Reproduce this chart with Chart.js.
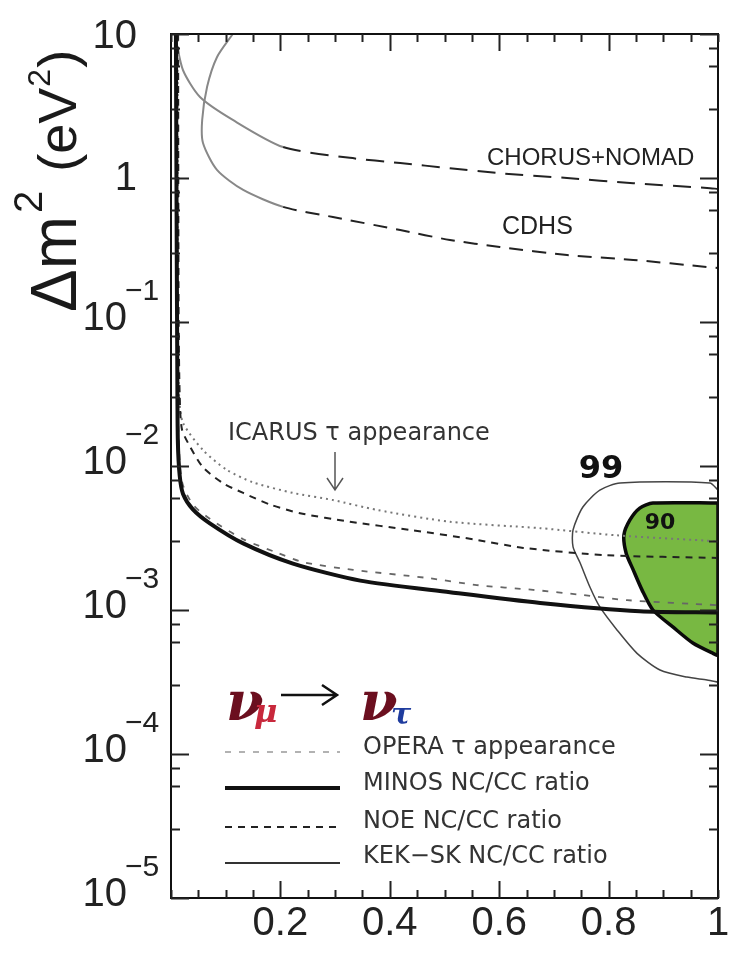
<!DOCTYPE html>
<html><head><meta charset="utf-8">
<script src="https://cdn.jsdelivr.net/npm/chart.js@4.4.1/dist/chart.umd.min.js"></script>
<style>html,body{margin:0;padding:0;background:#fff;}#c{display:block;}</style>
</head><body>
<canvas id="c" width="732" height="954"></canvas>
<script>
// ---- axis ticks / labels ----
const xTickValues = [0,0.05,0.1,0.15,0.2,0.25,0.3,0.35,0.4,0.45,0.5,0.55,0.6,0.65,0.7,0.75,0.8,0.85,0.9,0.95,1];
const xMajorTicks = [0.2,0.4,0.6,0.8];
const xTickLabels = ['0.2','0.4','0.6','0.8','1'];
const xTickLabelValues = [0.2,0.4,0.6,0.8,1];
const yDecades = [1e-5,1e-4,1e-3,1e-2,1e-1,1,10];
const yMinorMultipliers = [2,3,4,5,6,7,8,9];
const yLabelValues = [10,1,0.1,0.01,0.001,0.0001,0.00001];
const yLabelBase = ['10','1','10','10','10','10','10'];
const yLabelExp  = ['','','\u22121','\u22122','\u22123','\u22124','\u22125'];

// ---- curves: x = sin^2 2theta, y = delta m^2 (eV^2) ----
const sin2Chorus = [0.009,0.022,0.053,0.113,0.205,0.327,0.419,0.51,0.601,0.724,0.845,0.98,1.0];
const dm2Chorus  = [9.1,5.6,3.65,2.53,1.64,1.38,1.27,1.17,1.08,1.0,0.92,0.853,0.84];

const sin2Cdhs = [0.113,0.084,0.066,0.057,0.0585,0.084,0.132,0.205,0.296,0.419,0.51,0.601,0.724,0.845,0.98,1.0];
const dm2Cdhs  = [10,6.9,4.3,2.53,1.75,1.14,0.826,0.63,0.536,0.435,0.371,0.332,0.292,0.27,0.241,0.237];

const sin2Minos = [0.009,0.0095,0.0105,0.0115,0.0125,0.016,0.022,0.040,0.071,0.132,0.223,0.346,0.510,0.675,0.857,1.0];
const dm2Minos  = [10,3,0.3,0.05,0.015,0.0085,0.0064,0.0050,0.0040,0.0029,0.0021,0.0016,0.00133,0.00112,0.00098,0.00096];

const sin2Icarus = [0.012,0.0125,0.015,0.022,0.0585,0.102,0.150,0.223,0.296,0.377,0.510,0.675,0.815,1.0];
const dm2Icarus  = [10,0.1,0.03,0.0199,0.0129,0.0094,0.0077,0.0065,0.0058,0.00495,0.0041,0.0037,0.0033,0.0030];

const sin2Noe = [0.013,0.014,0.016,0.020,0.035,0.0585,0.095,0.132,0.181,0.236,0.327,0.437,0.552,0.644,0.797,1.0];
const dm2Noe  = [10,0.1,0.03,0.018,0.0136,0.0098,0.0076,0.0065,0.0054,0.0047,0.0041,0.0036,0.0031,0.0027,0.0024,0.0023];

const sin2Opera = [0.011,0.0115,0.013,0.020,0.040,0.071,0.132,0.194,0.241,0.333,0.468,0.559,0.662,0.753,0.834,1.0];
const dm2Opera  = [10,0.1,0.02,0.0078,0.0054,0.0043,0.0031,0.0025,0.00215,0.0019,0.00167,0.00149,0.00138,0.00127,0.00117,0.00108];

const sin2Sk90 = [1.0,0.881,0.857,0.839,0.828,0.832,0.845,0.861,0.881,0.918,0.954,0.991,1.0,1.0];
const dm2Sk90  = [0.00553,0.00553,0.0051,0.00422,0.00332,0.00249,0.0019,0.00138,0.0010,0.00076,0.00059,0.0005,0.000487,0.00553];

const sin2Sk99 = [1.0,0.985,0.821,0.784,0.753,0.735,0.735,0.748,0.766,0.784,0.815,0.852,0.894,0.943,0.980,1.0];
const dm2Sk99  = [0.0068,0.00762,0.00762,0.0068,0.00519,0.0036,0.00274,0.00212,0.00144,0.00105,0.00073,0.0005,0.000383,0.000342,0.000327,0.000316];

function pts(xs, ys){ return xs.map((x,i)=>({x:x, y:ys[i]})); }
const DASH_FROM = 0.2;

const datasets = [
  {label:'MINOS NC/CC ratio', data:pts(sin2Minos,dm2Minos), borderColor:'#111', borderWidth:4},
  {label:'NOE NC/CC ratio', data:pts(sin2Noe,dm2Noe), borderColor:'#222', borderWidth:2, borderDash:[7,6]},
  {label:'OPERA \u03c4 appearance', data:pts(sin2Opera,dm2Opera), borderColor:'#666', borderWidth:1.8, borderDash:[6,8]},
  {label:'ICARUS \u03c4 appearance', data:pts(sin2Icarus,dm2Icarus), borderColor:'#777', borderWidth:2, borderDash:[2,4]},
  {label:'CHORUS+NOMAD', data:pts(sin2Chorus,dm2Chorus), borderColor:'#888', borderWidth:2,
    segment:{borderDash:c=>c.p0.parsed.x>=DASH_FROM?[18,10]:undefined, borderColor:c=>c.p0.parsed.x>=DASH_FROM?'#222':'#888'}},
  {label:'CDHS', data:pts(sin2Cdhs,dm2Cdhs), borderColor:'#888', borderWidth:2,
    segment:{borderDash:c=>c.p0.parsed.x>=DASH_FROM?[14,9]:undefined, borderColor:c=>c.p0.parsed.x>=DASH_FROM?'#222':'#888'}},
  {label:'SK 99%', data:pts(sin2Sk99,dm2Sk99), borderColor:'#444', borderWidth:1.5},
  {label:'SK 90%', data:pts(sin2Sk90,dm2Sk90), borderColor:'#0a0a0a', borderWidth:3.5, backgroundColor:'#78b842', fill:'shape'}
];
datasets.forEach(d=>{ d.showLine=true; d.pointRadius=0; d.tension=0.25; if(d.fill===undefined) d.fill=false; });

const overlay = {
  id:'overlay',
  afterDatasetsDraw(chart){
    const ctx = chart.ctx, a = chart.chartArea, xs = chart.scales.x, ys = chart.scales.y;
    ctx.save();
    // frame
    ctx.strokeStyle='#111'; ctx.lineWidth=2;
    ctx.strokeRect(a.left, a.top, a.right-a.left, a.bottom-a.top);
    // y ticks
    ctx.lineWidth=2; ctx.strokeStyle='#222';
    ys.ticks.forEach(t=>{
      const p = Math.round(ys.getPixelForValue(t.value))+0.5;
      const len = t.major ? 18 : 9;
      ctx.beginPath(); ctx.moveTo(a.left,p); ctx.lineTo(a.left+len,p);
      ctx.moveTo(a.right,p); ctx.lineTo(a.right-len,p); ctx.stroke();
    });
    xs.ticks.forEach(t=>{
      const p = Math.round(xs.getPixelForValue(t.value))+0.5;
      const len = t.major ? 17 : 8;
      ctx.beginPath(); ctx.moveTo(p,a.bottom); ctx.lineTo(p,a.bottom-len);
      ctx.moveTo(p,a.top); ctx.lineTo(p,a.top+len); ctx.stroke();
    });
    // x labels
    ctx.fillStyle='#222'; ctx.font='40px "Liberation Sans", Arial, sans-serif';
    ctx.textAlign='center'; ctx.textBaseline='middle';
    xTickLabels.forEach((l,i)=>{ ctx.fillText(l, xs.getPixelForValue(xTickLabelValues[i]), a.bottom+26); });
    // y labels
    yLabelValues.forEach((v,i)=>{
      const p = ys.getPixelForValue(v);
      if(yLabelExp[i]===''){
        ctx.font='40px "Liberation Sans", Arial, sans-serif'; ctx.textAlign='right'; ctx.textBaseline='middle';
        ctx.fillText(yLabelBase[i], 137, Math.max(p+1, 37));
      } else {
        ctx.font='40px "Liberation Sans", Arial, sans-serif'; ctx.textAlign='right'; ctx.textBaseline='middle';
        ctx.fillText(yLabelBase[i], 127, p-3);
        ctx.font='30px "Liberation Sans", Arial, sans-serif'; ctx.textAlign='left';
        ctx.fillText(yLabelExp[i], 125, p-30);
      }
    });
    // y title
    ctx.save();
    ctx.translate(76, 312); ctx.rotate(-Math.PI/2);
    ctx.textAlign='left'; ctx.textBaseline='alphabetic'; ctx.fillStyle='#1a1a1a';
    let x=0;
    ctx.font='64px "Liberation Sans", Arial, sans-serif'; ctx.fillText('\u0394m', x, 0); x+=ctx.measureText('\u0394m').width+3;
    ctx.font='40px "Liberation Sans", Arial, sans-serif'; ctx.fillText('2', x, -34); x+=ctx.measureText('2').width+4;
    ctx.font='54px "Liberation Sans", Arial, sans-serif'; ctx.fillText(' (eV', x, 0); x+=ctx.measureText(' (eV').width+1;
    ctx.font='32px "Liberation Sans", Arial, sans-serif'; ctx.fillText('2', x, -26); x+=ctx.measureText('2').width+1;
    ctx.font='54px "Liberation Sans", Arial, sans-serif'; ctx.fillText(')', x, 0);
    ctx.restore();

    // curve annotations
    ctx.fillStyle='#222'; ctx.textAlign='left'; ctx.textBaseline='middle';
    ctx.font='24px "Liberation Sans", Arial, sans-serif';
    ctx.fillText('CHORUS+NOMAD', 487, 158);
    ctx.font='25px "Liberation Sans", Arial, sans-serif';
    ctx.fillText('CDHS', 502, 227);
    ctx.font='24px "DejaVu Sans", sans-serif'; ctx.fillStyle='#333';
    ctx.fillText('ICARUS \u03c4 appearance', 228, 434);
    // arrow
    ctx.strokeStyle='#555'; ctx.lineWidth=1.5;
    ctx.beginPath(); ctx.moveTo(335,452); ctx.lineTo(335,490);
    ctx.moveTo(327,478); ctx.lineTo(335,490); ctx.lineTo(343,478); ctx.stroke();
    // contour labels
    ctx.fillStyle='#111'; ctx.font='bold 32px "DejaVu Sans", sans-serif'; ctx.textAlign='center';
    ctx.fillText('99', 601, 470);
    ctx.font='bold 22px "DejaVu Sans", sans-serif';
    ctx.fillText('90', 660, 523);

    // nu_mu -> nu_tau
    ctx.textAlign='left'; ctx.textBaseline='alphabetic';
    ctx.font='bold italic 54px "DejaVu Serif", serif'; ctx.fillStyle='#6b0f1f';
    ctx.fillText('\u03bd', 226, 720);
    ctx.font='bold italic 32px "DejaVu Serif", serif'; ctx.fillStyle='#c8283c';
    ctx.fillText('\u03bc', 254, 722);
    ctx.strokeStyle='#111'; ctx.lineWidth=2.5;
    ctx.beginPath(); ctx.moveTo(281,695); ctx.lineTo(336,695);
    ctx.moveTo(322,685); ctx.lineTo(337,695); ctx.lineTo(322,705); ctx.stroke();
    ctx.font='bold italic 54px "DejaVu Serif", serif'; ctx.fillStyle='#6b0f1f';
    ctx.fillText('\u03bd', 360, 720);
    ctx.font='bold italic 30px "DejaVu Serif", serif'; ctx.fillStyle='#1f3c9e';
    ctx.fillText('\u03c4', 391, 724);

    // legend
    const rows = [
      {t:'OPERA \u03c4 appearance', y:748, ly:752, c:'#999', w:1.5, d:[6,8]},
      {t:'MINOS NC/CC ratio', y:784, ly:788, c:'#111', w:4, d:[]},
      {t:'NOE NC/CC ratio', y:822, ly:827, c:'#222', w:2, d:[7,6]},
      {t:'KEK\u2212SK NC/CC ratio', y:857, ly:863, c:'#333', w:2, d:[]}
    ];
    ctx.font='24px "DejaVu Sans", sans-serif'; ctx.textBaseline='middle';
    rows.forEach(r=>{
      ctx.strokeStyle=r.c; ctx.lineWidth=r.w; ctx.setLineDash(r.d);
      ctx.beginPath(); ctx.moveTo(225,r.ly); ctx.lineTo(340,r.ly); ctx.stroke();
      ctx.setLineDash([]);
      ctx.fillStyle='#333'; ctx.fillText(r.t, 363, r.y);
    });
    ctx.restore();
  }
};

new Chart(document.getElementById('c'), {
  type:'scatter',
  data:{datasets:datasets},
  options:{
    responsive:false, animation:false, devicePixelRatio:1,
    layout:{padding:{left:171,right:14,top:34,bottom:56}},
    plugins:{legend:{display:false}, tooltip:{enabled:false}},
    scales:{
      x:{type:'linear', min:0, max:1, display:false,
         afterBuildTicks:s=>{ s.ticks = xTickValues.map(v=>({value:v, major: xMajorTicks.includes(v)})); }},
      y:{type:'logarithmic', min:1e-5, max:10, display:false,
         afterBuildTicks:s=>{
           const t=[];
           yDecades.forEach(d=>{ t.push({value:d, major:true}); if(d<10) yMinorMultipliers.forEach(m=>t.push({value:m*d, major:false})); });
           s.ticks=t;
         }}
    }
  },
  plugins:[overlay]
});
</script>
</body></html>
